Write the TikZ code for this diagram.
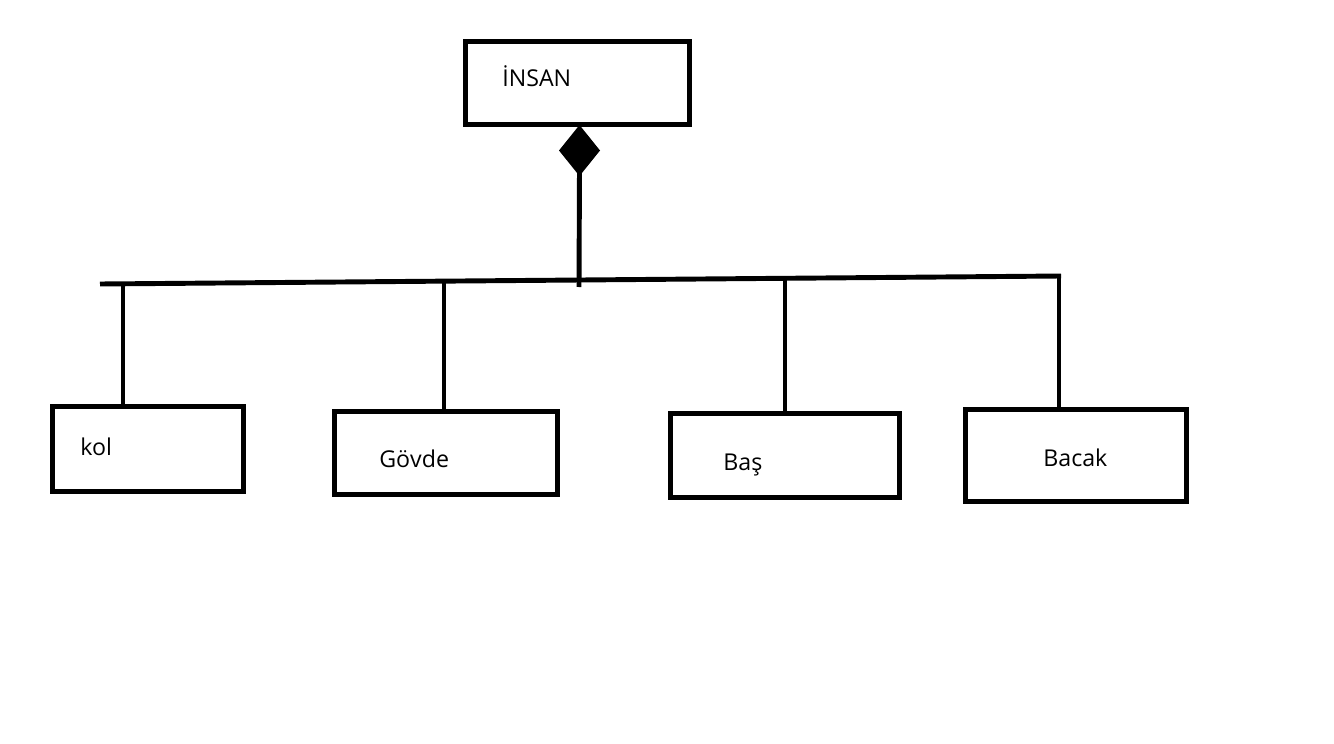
\documentclass[tikz,border=0pt]{standalone}
\usepackage{fontspec}
\setmainfont{Open Sans}
\usepackage{tikz}
\usetikzlibrary{positioning}
\tikzset{
x=0.02cm, y=-0.02cm, % pixel grid of the drawing
thick line/.style={line width=2.8pt}, % heavy strokes everywhere
part/.style={draw, thick line, inner sep=0pt}, % the boxes
word/.style={anchor=base west, inner sep=0pt, font=\fontsize{13.2}{15}\selectfont}, % the texts in the boxes
}

\begin{document}
\begin{tikzpicture}
    \useasboundingbox (0,0) rectangle (1334,743);
    % whole and parts
    \node[part, minimum width=4.48cm, minimum height=1.66cm] (insan) at (577.5,83) {};
    \node[part, minimum width=3.82cm, minimum height=1.70cm] (kol) at (148,449) {};
    \node[part, minimum width=4.46cm, minimum height=1.66cm] (govde) at (446,453) {};
    \node[part, minimum width=4.58cm, minimum height=1.68cm] (bas) at (785,455.5) {};
    \node[part, minimum width=4.42cm, minimum height=1.84cm] (bacak) at (1076,455.5) {};
    \node[word] (insan-t) at (502,86.7) {İNSAN};
    \node[word] (kol-t) at (80,455) {kol};
    \node[word] (govde-t) at (379,467) {Gövde};
    \node[word] (bas-t) at (723,470) {Baş};
    \node[word] (bacak-t) at (1043,466.7) {Bacak};
    % composition diamond
    \coordinate (dtop) at (579.5,125);
    \coordinate (dbot) at (579.5,176);
    \coordinate (dstem) at (579.5,166);
    \fill (dtop) -- ++(20.5,25.5) -- (dbot) -- ++(-20.5,-25.5) -- cycle;
    % bus line
    \coordinate (busl) at (100,284);
    \coordinate (busr) at (1061,276);
    \coordinate (b0) at (579,287);
    \coordinate (b1) at (123,284);
    \coordinate (b2) at (444,281);
    \coordinate (b3) at (785,280);
    \coordinate (b4) at (1059,277);
    \draw[thick line] (dstem) -- (b0);
    \draw[thick line] (busl) -- (busr);
    \draw[thick line] (b1) -- (b1 |- kol.north);
    \draw[thick line] (b2) -- (b2 |- govde.north);
    \draw[thick line] (b3) -- (b3 |- bas.north);
    \draw[thick line] (b4) -- (b4 |- bacak.north);
\end{tikzpicture}
\end{document}
